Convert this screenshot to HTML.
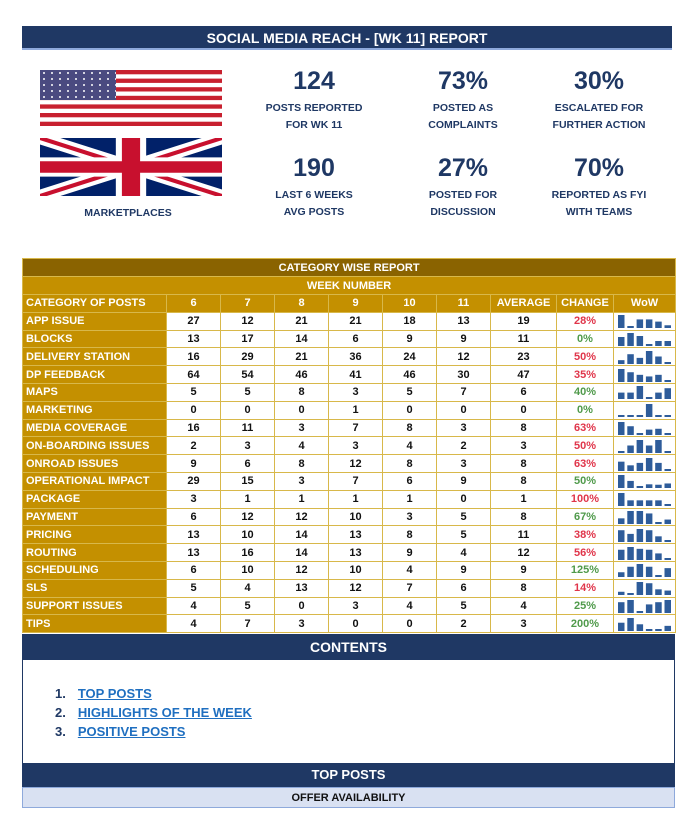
<!DOCTYPE html>
<html><head><meta charset="utf-8">
<style>
*{margin:0;padding:0;box-sizing:border-box}
body{width:700px;height:827px;background:#fff;font-family:"Liberation Sans",sans-serif;position:relative;overflow:hidden}
.abs{position:absolute}
.title{left:22px;top:26px;width:650px;height:24px;background:#1f3864;color:#fff;font-weight:bold;font-size:14px;text-align:center;line-height:24px;border-bottom:2px solid #8ea9db}
.big{font-size:25px;font-weight:bold;color:#1f3864;text-align:center;width:140px}
.lab{font-size:10.5px;font-weight:bold;color:#1f3864;text-align:center;width:140px;line-height:17px}
table{position:absolute;left:22px;top:258px;width:653px;border-collapse:collapse;font-size:11px;font-weight:bold;table-layout:fixed}
td{border:1px solid #d8b84a;height:17.8px;text-align:center;padding:0;white-space:nowrap;overflow:hidden}
td.cat{background:#c49000;color:#fff;text-align:left;padding-left:3px}
td.hd{background:#c49000;color:#fff}
td.v{background:#fff;color:#111}
td.red{color:#e0354a}td.grn{color:#4f9a4a}
.bar{background:#1f3864;color:#fff;font-weight:bold;text-align:center}
.lnk{font-size:13px;font-weight:bold;color:#1f3864}
.lnk span{color:#1f6fc0;text-decoration:underline;margin-left:12px}
</style></head><body>
<div class="abs title">SOCIAL MEDIA REACH - [WK 11] REPORT</div>

<svg class="abs" style="left:40px;top:70px" width="182" height="56">
<defs><pattern id="st" width="8" height="6" patternUnits="userSpaceOnUse"><circle cx="4" cy="3" r="1" fill="#fff"/></pattern></defs>
<rect width="182" height="56" fill="#fff"/>
<g fill="#c8202f"><rect y="0" width="182" height="4.3"/><rect y="8.6" width="182" height="4.3"/><rect y="17.2" width="182" height="4.3"/><rect y="25.8" width="182" height="4.3"/><rect y="34.4" width="182" height="4.3"/><rect y="43" width="182" height="4.3"/><rect y="51.7" width="182" height="4.3"/></g>
<rect width="76" height="30" fill="#4a4a80"/>
<rect width="76" height="30" fill="url(#st)"/>
</svg>
<svg class="abs" style="left:40px;top:138px" width="182" height="58" viewBox="0 0 60 30" preserveAspectRatio="none">
<rect width="60" height="30" fill="#012169"/>
<path d="M0,0 L60,30 M60,0 L0,30" stroke="#fff" stroke-width="6"/>
<path d="M0,0 L60,30 M60,0 L0,30" stroke="#c8102e" stroke-width="2"/>
<path d="M30,0 V30 M0,15 H60" stroke="#fff" stroke-width="10"/>
<path d="M30,0 V30 M0,15 H60" stroke="#c8102e" stroke-width="6"/>
</svg>
<div class="abs lab" style="left:58px;top:205px">MARKETPLACES</div>

<div class="abs big" style="left:244px;top:67px">124</div>
<div class="abs lab" style="left:244px;top:100px">POSTS REPORTED<br>FOR WK 11</div>
<div class="abs big" style="left:393px;top:67px">73%</div>
<div class="abs lab" style="left:393px;top:100px">POSTED AS<br>COMPLAINTS</div>
<div class="abs big" style="left:529px;top:67px">30%</div>
<div class="abs lab" style="left:529px;top:100px">ESCALATED FOR<br>FURTHER ACTION</div>
<div class="abs big" style="left:244px;top:154px">190</div>
<div class="abs lab" style="left:244px;top:187px">LAST 6 WEEKS<br>AVG POSTS</div>
<div class="abs big" style="left:393px;top:154px">27%</div>
<div class="abs lab" style="left:393px;top:187px">POSTED FOR<br>DISCUSSION</div>
<div class="abs big" style="left:529px;top:154px">70%</div>
<div class="abs lab" style="left:529px;top:187px">REPORTED AS FYI<br>WITH TEAMS</div>

<table id="tbl">
<colgroup><col style="width:144px"><col style="width:54px"><col style="width:54px"><col style="width:54px"><col style="width:54px"><col style="width:54px"><col style="width:54px"><col style="width:66px"><col style="width:57px"><col style="width:62px"></colgroup>
<tr><td colspan="10" style="background:#8a6300;color:#fff;height:18px">CATEGORY WISE REPORT</td></tr>
<tr><td colspan="10" class="hd" style="height:18px">WEEK NUMBER</td></tr>
<tr id="hdr"><td class="cat">CATEGORY OF POSTS</td><td class="hd">6</td><td class="hd">7</td><td class="hd">8</td><td class="hd">9</td><td class="hd">10</td><td class="hd">11</td><td class="hd">AVERAGE</td><td class="hd">CHANGE</td><td class="hd">WoW</td></tr>
</table>

<div class="abs bar" style="left:22px;top:634px;width:653px;height:26px;line-height:26px;font-size:14px">CONTENTS</div>
<div class="abs" style="left:22px;top:660px;width:653px;height:103px;border:1px solid #1f3864;border-top:0;border-bottom:0"></div>
<div class="abs lnk" style="left:55px;top:686px">1.<span>TOP POSTS</span></div>
<div class="abs lnk" style="left:55px;top:705px">2.<span>HIGHLIGHTS OF THE WEEK</span></div>
<div class="abs lnk" style="left:55px;top:724px">3.<span>POSITIVE POSTS</span></div>
<div class="abs bar" style="left:22px;top:763px;width:653px;height:24px;line-height:24px;font-size:13px">TOP POSTS</div>
<div class="abs" style="left:22px;top:787px;width:653px;height:21px;line-height:21px;background:#d9e1f2;border:1px solid #8ea9db;text-align:center;font-size:11px;font-weight:bold;color:#111">OFFER AVAILABILITY</div>

<script>
const categories=["APP ISSUE","BLOCKS","DELIVERY STATION","DP FEEDBACK","MAPS","MARKETING","MEDIA COVERAGE","ON-BOARDING ISSUES","ONROAD ISSUES","OPERATIONAL IMPACT","PACKAGE","PAYMENT","PRICING","ROUTING","SCHEDULING","SLS","SUPPORT ISSUES","TIPS"];
const wk6=[27,13,16,64,5,0,16,2,9,29,3,6,13,13,6,5,4,4];
const wk7=[12,17,29,54,5,0,11,3,6,15,1,12,10,16,10,4,5,7];
const wk8=[21,14,21,46,8,0,3,4,8,3,1,12,14,14,12,13,0,3];
const wk9=[21,6,36,41,3,1,7,3,12,7,1,10,13,13,10,12,3,0];
const wk10=[18,9,24,46,5,0,8,4,8,6,1,3,8,9,4,7,4,0];
const wk11=[13,9,12,30,7,0,3,2,3,9,0,5,5,4,9,6,5,2];
const averages=[19,11,23,47,6,0,8,3,8,8,1,8,11,12,9,8,4,3];
const changes=["28%","0%","50%","35%","40%","0%","63%","50%","63%","50%","100%","67%","38%","56%","125%","14%","25%","200%"];
const changeUp=[false,true,false,false,true,true,false,false,false,true,false,true,false,false,true,false,true,true];
const weeks=[wk6,wk7,wk8,wk9,wk10,wk11];
const tbl=document.getElementById('tbl');
categories.forEach((c,i)=>{
  const tr=document.createElement('tr');
  
  
  let h='<td class="cat">'+c+'</td>';
  weeks.forEach(w=>{h+='<td class="v">'+w[i]+'</td>';});
  h+='<td class="v">'+averages[i]+'</td>';
  h+='<td class="v '+(changeUp[i]?'grn':'red')+'">'+changes[i]+'</td>';
  const vals=weeks.map(w=>w[i]);
  const mx=Math.max(...vals),mn=Math.min(...vals);
  let svg='<svg width="58" height="15" style="display:block;margin:1px auto 0">';
  vals.forEach((v,k)=>{
    if(mx===0)return;
    let hgt=mx===mn?12:2+(v-mn)/(mx-mn)*11;
    svg+='<rect x="'+(2+k*9.3)+'" y="'+(14-hgt)+'" width="6.5" height="'+hgt+'" fill="#2e5c9a"/>';
  });
  svg+='</svg>';
  h+='<td class="v">'+svg+'</td>';
  tr.innerHTML=h;
  tbl.appendChild(tr);
});
</script>
</body></html>
